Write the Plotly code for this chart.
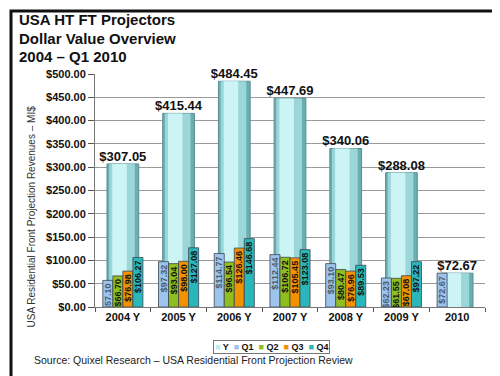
import plotly.graph_objects as go

categories = ["2004 Y", "2005 Y", "2006 Y", "2007 Y", "2008 Y", "2009 Y", "2010"]
y_total = [307.05, 415.44, 484.45, 447.69, 340.06, 288.08, 72.67]
q1 = [57.10, 97.32, 114.77, 112.44, 93.10, 62.23, 72.67]
q2 = [66.70, 93.04, 96.54, 106.72, 80.47, 61.55, None]
q3 = [76.98, 98.00, 126.46, 105.45, 76.96, 67.08, None]
q4 = [106.27, 127.08, 146.68, 123.08, 89.53, 97.22, None]
series_names = ["Y", "Q1", "Q2", "Q3", "Q4"]
series_colors = ["#b9ecee", "#9cc4ec", "#8fbf1e", "#f39200", "#2ab7b9"]
title_lines = ["USA HT FT Projectors", "Dollar Value Overview", "2004 \u2013 Q1 2010"]
y_title = "USA Residential Front Projection Revenues \u2013 MI$"
source = "Source: Quixel Research \u2013 USA Residential Front Projection Review"

FONT = "Liberation Sans, Arial, sans-serif"
W, H = 500, 376
ML, MR, MT, MB = 87, 23, 66, 77
PW, PH = W - ML - MR, H - MT - MB

def px_x(px):
    return (px - ML) / PW

def px_y(py):
    return (H - MB - py) / PH

fig = go.Figure()

# Y cylinder (back), shaded with layered bars
y_layers = [(0.57, -0.285, "#6aaeb2"), (0.46, -0.245, "#9bd6d9"), (0.26, -0.19, "#cdf4f5")]
for i, (w, off, col) in enumerate(y_layers):
    fig.add_trace(go.Bar(
        x=categories, y=y_total, width=w, offset=off,
        marker=dict(color=col, line=dict(color="#5a8e91" if i == 0 else col, width=1 if i == 0 else 0)),
        textposition="none",
        cliponaxis=False, showlegend=False, hoverinfo="skip" if i else None,
        name="Y",
    ))

# Y value labels above the cylinders
fig.add_trace(go.Scatter(
    x=categories, y=y_total, mode="text",
    text=[f"<b>${v:.2f}</b>" for v in y_total], textposition="top center",
    textfont=dict(family=FONT, size=13, color="#111"),
    cliponaxis=False, showlegend=False, hoverinfo="skip",
))

q_series = [q1, q2, q3, q4]
q_offsets = [-0.36, -0.18, 0.0, 0.18]
q_text_colors = ["#4d5a6a", "#111", "#111", "#111"]
for k, (vals, off) in enumerate(zip(q_series, q_offsets)):
    fig.add_trace(go.Bar(
        x=categories, y=vals, width=0.18, offset=off,
        marker=dict(color=series_colors[k + 1], line=dict(color="#3c4650", width=0.8)),
        texttemplate="<b>$%{y:.2f}</b>", textposition="inside", insidetextanchor="end",
        textangle=-90,
        textfont=dict(family=FONT, size=9, color=q_text_colors[k]),
        name=series_names[k + 1], showlegend=False,
    ))

legend_text = "  ".join(
    f"<span style='color:{c}'>\u25a0</span> {n}" for n, c in zip(series_names, series_colors)
)

title_annotations = [
    dict(text=f"<b>{line}</b>", xref="paper", yref="paper",
         x=px_x(9), y=px_y(12 + 18 * i), xanchor="left", yanchor="middle",
         showarrow=False, font=dict(family=FONT, size=15, color="#111"))
    for i, line in enumerate(title_lines)
]

fig.update_layout(
    width=W, height=H,
    margin=dict(l=ML, r=MR, t=MT, b=MB),
    paper_bgcolor="white", plot_bgcolor="white",
    barmode="overlay",
    uniformtext=dict(mode="show", minsize=9),
    font=dict(family=FONT, color="#111"),
    xaxis=dict(
        range=[-0.5, 6.5], tickson="boundaries", ticks="outside", ticklen=4,
        tickcolor="#555", showline=True, linecolor="#777", linewidth=1,
        tickfont=dict(family=FONT, size=11, color="#111", weight="bold"),
        showgrid=False, fixedrange=True,
    ),
    yaxis=dict(
        range=[0, 500], dtick=50, tickprefix="$", tickformat=".2f",
        ticks="outside", ticklen=6, tickcolor="#555",
        showline=True, linecolor="#777", linewidth=1,
        gridcolor="#9a9a9a", gridwidth=1,
        tickfont=dict(family=FONT, size=11, color="#111", weight="bold"),
        zeroline=False, fixedrange=True,
    ),
    showlegend=False,
    annotations=title_annotations + [
        dict(text=y_title, textangle=-90, xref="paper", yref="paper",
             x=px_x(15), y=px_y(209), showarrow=False,
             font=dict(family=FONT, size=10, color="#333")),
        dict(text="<b>" + legend_text + "</b>", xref="paper", yref="paper",
             x=px_x(263), y=px_y(346), showarrow=False,
             bordercolor="#777", borderwidth=1, borderpad=1, bgcolor="white",
             font=dict(family=FONT, size=9, color="#111")),
        dict(text=source, xref="paper", yref="paper",
             x=px_x(24), y=px_y(360), xanchor="left", showarrow=False,
             font=dict(family=FONT, size=10.5, color="#222")),
    ],
    shapes=[
        dict(type="rect", xref="paper", yref="paper",
             x0=px_x(3), x1=px_x(491), y0=px_y(373), y1=px_y(3),
             line=dict(color="#111", width=3), fillcolor="rgba(0,0,0,0)", layer="above"),
    ],
)

fig.write_html("out.html")
